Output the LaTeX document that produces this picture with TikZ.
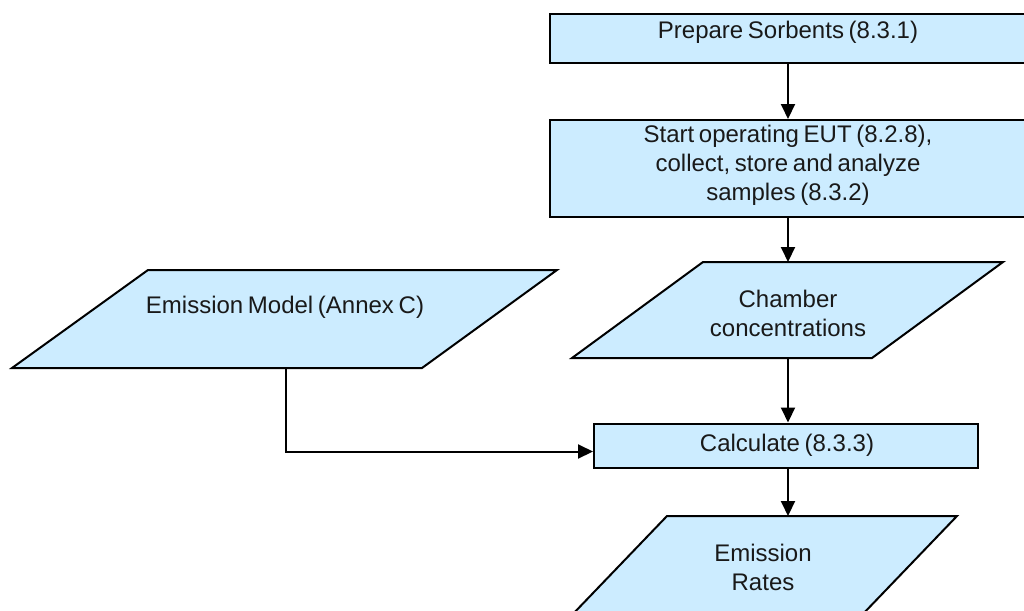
\documentclass[tikz,border=0pt]{standalone}
\usepackage{fontspec}
\setmainfont{Liberation Sans}[WordSpace=0.7]
\usetikzlibrary{arrows.meta}
\definecolor{boxfill}{RGB}{204,236,255}
\definecolor{txt}{RGB}{25,25,25}
\begin{document}
\begin{tikzpicture}[x=1pt,y=-1pt,
  shapebox/.style={draw=black, line width=2pt, fill=boxfill},
  rectbox/.style={shapebox, rectangle, inner sep=0pt},
  lbl/.style={font=\fontsize{24}{29}\selectfont, align=center, inner sep=0pt, text=txt},
  conn/.style={line width=2pt, -{Triangle[width=14pt,length=15pt]}}]
\useasboundingbox (0,0) rectangle (1024,610);
\clip (0,0) rectangle (1024,610);
\fill[white] (0,0) rectangle (1024,610);

% rectangles
\node[rectbox, minimum width=476pt, minimum height=49pt] (prep) at (788,38.5) {};
\node[lbl] (preptxt) at (788,32.5) {Prepare Sorbents (8.3.1)};

\node[rectbox, minimum width=476pt, minimum height=97pt] (start) at (788,168.5) {};
\node[lbl] (starttxt) at (788,165.5) {Start operating EUT (8.2.8),\\collect, store and analyze\\samples (8.3.2)};

\node[rectbox, minimum width=384pt, minimum height=44pt] (calc) at (786,445.5) {};
\node[lbl] (calctxt) at (787,445.5) {Calculate (8.3.3)};

% parallelograms
\draw[shapebox] (703,262) -- (1003,262) -- (872,358) -- (572,358) -- cycle;
\coordinate (chtop) at (788,262);
\coordinate (chbot) at (788,358);
\node[lbl] (chtxt) at (788,313) {Chamber\\concentrations};

\draw[shapebox] (148,270) -- (557,270) -- (422,368) -- (12,368) -- cycle;
\coordinate (embot) at (286,368);
\node[lbl] (emtxt) at (285,307.5) {Emission Model (Annex C)};

\draw[shapebox] (667,516) -- (957,516) -- (861,616) -- (571,616) -- cycle;
\coordinate (ertop) at (788,516);
\node[lbl] (ertxt) at (763,567.5) {Emission\\Rates};

% connectors
\draw[conn] (prep.south) -- (start.north);
\draw[conn] (start.south) -- (chtop);
\draw[conn] (chbot) -- (chbot |- calc.north);
\draw[conn] (embot) |- ([yshift=-6pt]calc.west);
\draw[conn] (ertop |- calc.south) -- (ertop);
\end{tikzpicture}
\end{document}
